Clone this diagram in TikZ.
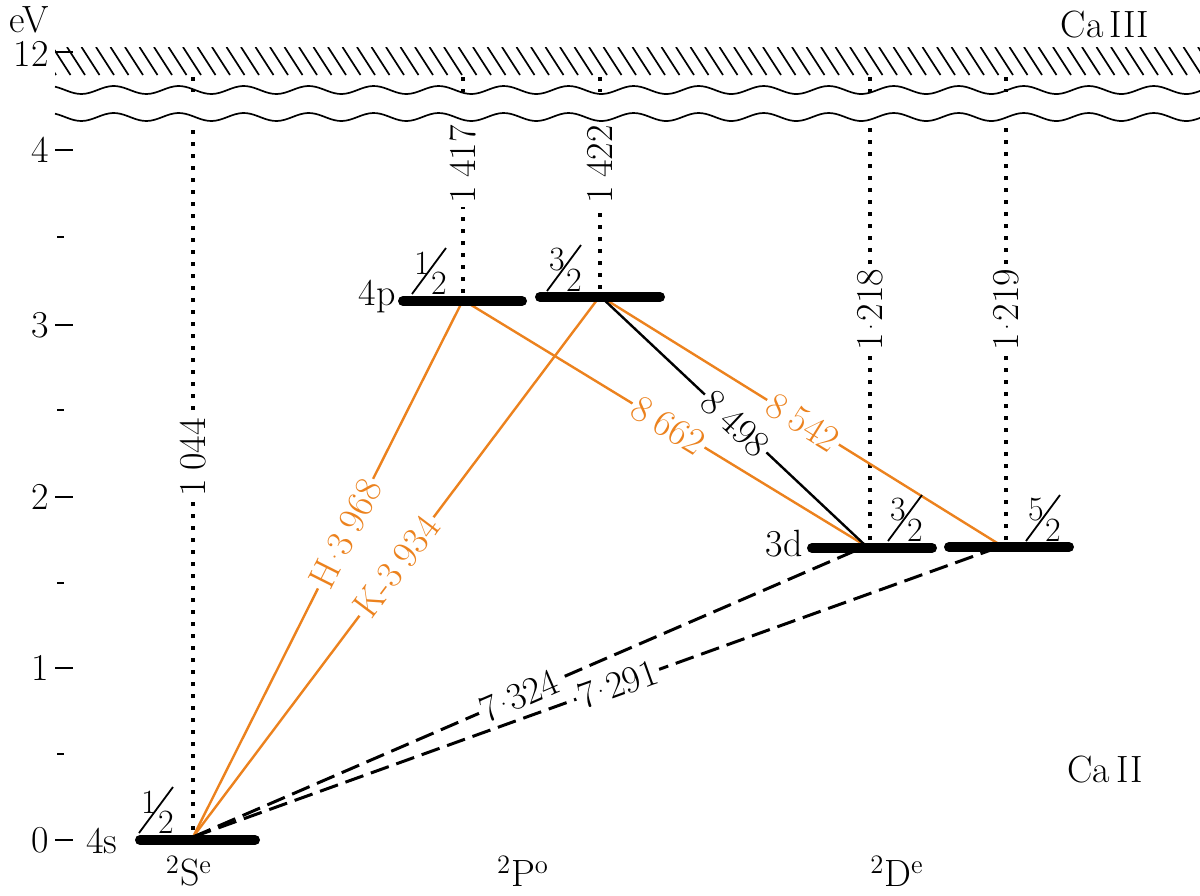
\documentclass[tikz,border=0pt]{standalone}
\usepackage{graphicx}
\definecolor{lineorange}{RGB}{236,130,30}
\newcommand\gs{\hspace{0.22em}}
\newcommand\md{\kern0.07em\raisebox{0.27em}{\scalebox{0.7}{.}}\kern0.07em}
% fraction: name, x, y, numerator, denominator
\newcommand\jfr[5]{%
  \draw[slashline] ({#2-17},{#3+23}) -- ({#2+17},{#3-23});
  \node[fracdigit] (#1n) at ({#2-7},{#3-8}) {#4};
  \node[fracdigit] (#1d) at ({#2+10},{#3+12}) {#5};}
\begin{document}
\begin{tikzpicture}[x=0.5pt,y=-0.5pt,
  every node/.style={font=\fontsize{19}{23}\selectfont, inner sep=0pt},
  fracdigit/.style={font=\fontsize{17}{20}\selectfont},
  slashline/.style={line width=0.9pt},
  bar/.style={line width=5pt, line cap=round},
  dotline/.style={line width=1.8pt, dash pattern=on 1.8pt off 4.2pt},
  trans/.style={line width=1.2pt, lineorange},
  blackt/.style={line width=1.2pt, black},
  dashedt/.style={line width=1.5pt, dash pattern=on 9.5pt off 4pt},
  lbl/.style={fill=white, inner sep=1.5pt, sloped},
  olbl/.style={lbl, text=lineorange},
  hatchline/.style={line width=0.85pt},
  wave/.style={line width=0.85pt},
  tickline/.style={line width=0.9pt}]
\useasboundingbox (0,0) rectangle (1200,895);

% ionisation band
\begin{scope}
  \clip (55,47) rectangle (1200,75);
  \foreach \i in {0,...,82} \draw[hatchline] ({38+\i*14.5},47) -- ({56+\i*14.5},75);
\end{scope}
\draw[wave] plot[domain=55:1200, samples=300, smooth] (\x, {90+4*sin(5.5385*\x)});
\draw[wave] plot[domain=55:1200, samples=300, smooth] (\x, {117+4*sin(5.5385*\x)});

\node (ca3) at (1105,25) {Ca\,III};
\node (ca2) at (1105,770) {Ca\,II};

% axis
\node (ev) at (29,20) {eV};
\node[anchor=east] (ax12) at (49,54) {12};
\draw[tickline] (55,52) -- (73,52);
\foreach \v/\y in {4/150,3/325,2/497,1/668,0/840} {
  \node[anchor=east] (ax\v) at (49,\y) {\v};
  \draw[tickline] (55,\y) -- (73,\y);
}
\foreach \y in {237,410,583,754} \draw[tickline] (57,\y) -- (64,\y);

% level points
\coordinate (s) at (193,837);
\coordinate (p1) at (463,300);
\coordinate (p3) at (600,296);
\coordinate (d3) at (866,546);
\coordinate (d5) at (1002,546);

% dotted verticals
\foreach \n/\x/\yb in {s/193/830, p1/463/293, p3/600/289, d3/870/540, d5/1006/540} {
  \coordinate (\n b) at (\x,\yb);
  \coordinate (\n t) at (\x,124);
  \coordinate (\n u) at (\x,77);
  \coordinate (\n w) at (\x,92);
  \draw[dotline] (\n u) -- (\n w);
}
\draw[dotline] (sb) -- node[lbl, pos=0.528] {1\gs 044} (st);
\draw[dotline] (p1b) -- node[lbl, pos=0.76] {1\gs 417} (p1t);
\draw[dotline] (p3b) -- node[lbl, pos=0.756] {1\gs 422} (p3t);
\draw[dotline] (d3b) -- node[lbl, pos=0.554] {1\md 218} (d3t);
\draw[dotline] (d5b) -- node[lbl, pos=0.554] {1\md 219} (d5t);

% transitions
\draw[trans] (s) -- node[olbl, pos=0.565] {H\md 3\gs 968} (p1);
\draw[trans] (s) -- node[olbl, pos=0.5] {K-3\gs 934} (p3);
\draw[trans] (p1) -- node[olbl, pos=0.51] {8\gs 662} (d3);
\draw[trans] (p3) -- node[olbl, pos=0.505] {8\gs 542} (d5);
\draw[blackt] (p3) -- node[lbl, pos=0.51] {8\gs 498} (d3);
\draw[dashedt] (s) -- node[lbl, pos=0.485] {7\md 324} (d3);
\draw[dashedt] (s) -- node[lbl, pos=0.525] {7\md 291} (d5);

% levels
\draw[bar] (140,840) -- (255,840);
\draw[bar] (403,301) -- (522,301);
\draw[bar] (540,297) -- (660,297);
\draw[bar] (812,548) -- (932,548);
\draw[bar] (949,547) -- (1069,547);

\node[anchor=base east] (l4s) at (118,853) {4s};
\node[anchor=base east] (l4p) at (396,305) {4p};
\node[anchor=base east] (l3d) at (803,556) {3d};

\jfr{fa}{156}{810}{1}{2}
\jfr{fb}{429}{271}{1}{2}
\jfr{fc}{564}{268}{3}{2}
\jfr{fd}{905}{518}{3}{2}
\jfr{fe}{1043}{518}{5}{2}

\node (tS) at (189,871) {\textsuperscript{2}S\textsuperscript{e}};
\node (tP) at (523,871) {\textsuperscript{2}P\textsuperscript{o}};
\node (tD) at (897,871) {\textsuperscript{2}D\textsuperscript{e}};
\end{tikzpicture}
\end{document}
